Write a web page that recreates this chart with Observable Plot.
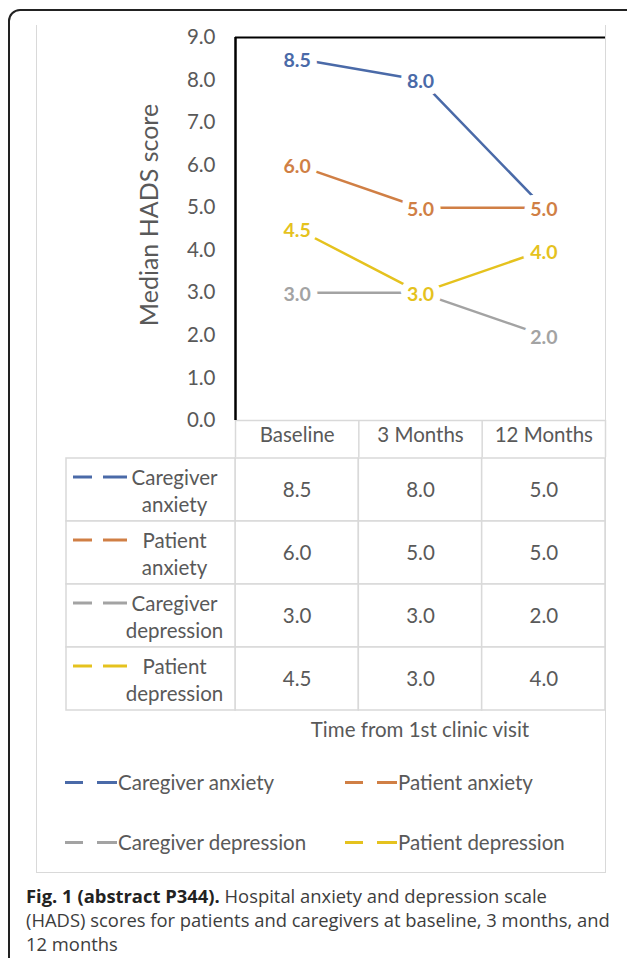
<!DOCTYPE html>
<html>
<head>
<meta charset="utf-8">
<script src="https://cdn.jsdelivr.net/npm/d3@7"></script>
<script src="https://cdn.jsdelivr.net/npm/@observablehq/plot@0.6"></script>
<style>
  html, body { margin: 0; padding: 0; background: #fff; }
  body { width: 627px; height: 958px; overflow: hidden; position: relative; font-family: Lato, sans-serif; }
  #frame { position: absolute; left: 8px; top: 9px; width: 700px; height: 1000px; border: 2px solid #222; border-radius: 12px; box-sizing: border-box; }
  #box { position: absolute; left: 36px; top: 25px; width: 570px; height: 848px; border: 1.5px solid #d9d9d9; border-top: none; box-sizing: border-box; }
  #chart, #table { position: absolute; left: 0; }
  #chart { top: 0; }
  #table { top: 456px; }
  #xtitle { position: absolute; top: 717px; left: 235px; width: 370px; text-align: center; font-size: 20.5px; color: #595959; }
  .leg { position: absolute; display: flex; align-items: center; font-size: 20.5px; color: #595959; height: 26px; white-space: nowrap; }
  .leg .d1 { display: inline-block; width: 18px; height: 3px; margin-right: 14px; }
  .leg .d2 { display: inline-block; width: 20px; height: 3px; margin-right: 1px; }
  #caption { position: absolute; left: 26px; top: 884px; font-family: "Open Sans", sans-serif; font-size: 18.4px; line-height: 24px; color: #3d3d3d; white-space: nowrap; }
  #caption b { color: #222; }
</style>
</head>
<body>
<div id="frame"></div>
<div id="box"></div>
<div id="chart"></div>
<div id="table"></div>
<div id="xtitle"></div>
<div id="legend"></div>
<div id="caption"><b>Fig. 1 (abstract P344).</b> Hospital anxiety and depression scale<br>(HADS) scores for patients and caregivers at baseline, 3 months, and<br>12 months</div>
<script>
// ---- data ----
const categories = ["Baseline", "3 Months", "12 Months"];
const series = ["Caregiver anxiety", "Patient anxiety", "Caregiver depression", "Patient depression"];
const tableLabels = ["Caregiver\nanxiety", "Patient\nanxiety", "Caregiver\ndepression", "Patient\ndepression"];
const caregiverAnxiety = [8.5, 8.0, 5.0];
const patientAnxiety = [6.0, 5.0, 5.0];
const caregiverDepression = [3.0, 3.0, 2.0];
const patientDepression = [4.5, 3.0, 4.0];
const seriesValues = [caregiverAnxiety, patientAnxiety, caregiverDepression, patientDepression];
const colors = ["#4a6aa8", "#d07f45", "#a3a3a3", "#e5c21e"];
const yTicks = [0, 1, 2, 3, 4, 5, 6, 7, 8, 9];
const yTitle = "Median HADS score";
const xTitle = "Time from 1st clinic visit";

// ---- derived tables ----
const points = [];
series.forEach((s, k) => seriesValues[k].forEach((v, i) => points.push({series: s, i, value: v})));
const idx = categories.map((c, i) => i);
const bounds = categories.map((c, i) => i - 0.5).concat([categories.length - 0.5]);
const xDomain = [-0.5, categories.length - 0.5];
const gray = "#d9d9d9", textGray = "#595959";
const fs = 20.5;

// ---- chart ----
const chart = Plot.plot({
  width: 627, height: 457,
  marginLeft: 235, marginRight: 22, marginTop: 37, marginBottom: 37,
  x: {domain: xDomain},
  y: {domain: [0, 9]},
  color: {domain: series, range: colors},
  style: {fontFamily: "Lato, sans-serif", background: "transparent", overflow: "visible"},
  marks: [
    Plot.ruleY([0], {stroke: gray, strokeWidth: 1.5}),
    Plot.axisX(bounds, {tickSize: 37, tickFormat: () => "", stroke: gray, strokeWidth: 1.5, strokeOpacity: 1, label: null}),
    Plot.axisX(idx, {tickSize: 0, tickPadding: 7, tickFormat: i => categories[i], fontSize: fs, fill: textGray, label: null}),
    Plot.axisY(yTicks, {tickSize: 0, tickPadding: 20, tickFormat: d => d.toFixed(1), fontSize: fs, fill: textGray, label: null}),
    Plot.text([yTitle], {frameAnchor: "left", textAnchor: "middle", rotate: -90, dx: -86, dy: -14, fontSize: 25, fill: textGray}),
    Plot.ruleY([9], {stroke: "#000", strokeWidth: 2}),
    Plot.ruleX([-0.5], {stroke: "#000", strokeWidth: 2.5}),
    Plot.line(points, {x: "i", y: "value", z: "series", stroke: "series", strokeWidth: 2.5}),
    Plot.text(points, {x: "i", y: "value", text: d => d.value.toFixed(1), fill: "series", stroke: "white", strokeWidth: 14, strokeLinejoin: "round", paintOrder: "stroke", fontWeight: "bold", fontSize: 19.5, dy: 2})
  ]
});
document.getElementById("chart").appendChild(chart);

// ---- data table ----
const xs = d3.scaleLinear(xDomain, [235, 605]);
const labelStart = xs.invert(66);
const labelCenter = xs.invert(174);
const sw1 = [xs.invert(73), xs.invert(92)];
const sw2 = [xs.invert(103), xs.invert(127)];
const table = Plot.plot({
  width: 627, height: 257,
  marginTop: 1, marginBottom: 2, marginLeft: 66, marginRight: 22,
  x: {domain: [labelStart, xDomain[1]], axis: null},
  y: {domain: series, padding: 0, axis: null},
  color: {domain: series, range: colors},
  style: {fontFamily: "Lato, sans-serif", background: "transparent", overflow: "visible"},
  marks: [
    Plot.barX(points, {x1: d => d.i - 0.5, x2: d => d.i + 0.5, y: "series", fill: "white", stroke: gray, strokeWidth: 1.5}),
    Plot.barX(series, {x1: labelStart, x2: -0.5, y: d => d, fill: "white", stroke: gray, strokeWidth: 1.5}),
    Plot.text(points, {x: "i", y: "series", text: d => d.value.toFixed(1), fontSize: fs, fill: textGray}),
    Plot.text(series, {x: labelCenter, y: d => d, text: (d, i) => tableLabels[i], lineHeight: 1.33, fontSize: fs, fill: textGray}),
    Plot.ruleY(series, {y: d => d, x1: sw1[0], x2: sw1[1], stroke: d => d, strokeWidth: 3, dy: -13}),
    Plot.ruleY(series, {y: d => d, x1: sw2[0], x2: sw2[1], stroke: d => d, strokeWidth: 3, dy: -13})
  ]
});
document.getElementById("table").appendChild(table);

// ---- x title & legend ----
document.getElementById("xtitle").textContent = xTitle;
const legendCols = [65, 345], legendRows = [769, 829];
const leg = d3.select("#legend");
series.forEach((s, k) => {
  const item = leg.append("div").attr("class", "leg")
    .style("left", legendCols[k % 2] + "px").style("top", legendRows[Math.floor(k / 2)] + "px");
  item.append("span").attr("class", "d1").style("background", colors[k]);
  item.append("span").attr("class", "d2").style("background", colors[k]);
  item.append("span").text(s);
});
</script>
</body>
</html>
